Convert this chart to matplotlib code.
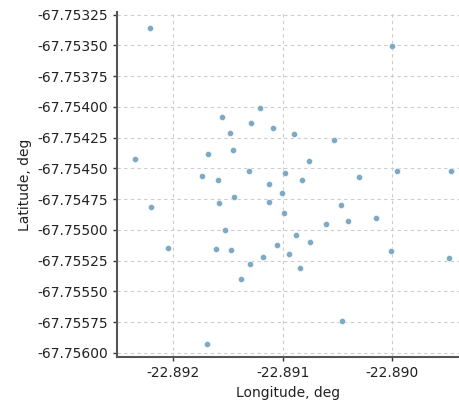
import matplotlib
matplotlib.use("Agg")
import matplotlib.pyplot as plt

# positions
lon = [-22.892213, -22.889997, -22.891206, -22.891554, -22.891288, -22.891087,
       -22.890895, -22.891481, -22.890528, -22.891453, -22.891682, -22.892351,
       -22.890757, -22.891307, -22.891737, -22.890977, -22.889951, -22.889457,
       -22.890299, -22.891591, -22.890821, -22.891124, -22.891005, -22.891444,
       -22.891581, -22.891124, -22.892204, -22.890986, -22.890464, -22.890602,
       -22.890400, -22.890144, -22.891527, -22.890876, -22.890748, -22.891050,
       -22.892049, -22.891609, -22.891472, -22.890940, -22.891179, -22.891298,
       -22.890840, -22.890006, -22.889475, -22.891380, -22.890455, -22.891691]
lat = [-67.753363, -67.753508, -67.754008, -67.754081, -67.754129, -67.754169,
       -67.754218, -67.754210, -67.754266, -67.754355, -67.754387, -67.754427,
       -67.754444, -67.754524, -67.754565, -67.754540, -67.754524, -67.754524,
       -67.754573, -67.754597, -67.754597, -67.754629, -67.754702, -67.754734,
       -67.754782, -67.754774, -67.754815, -67.754863, -67.754798, -67.754952,
       -67.754927, -67.754903, -67.755000, -67.755040, -67.755097, -67.755121,
       -67.755145, -67.755153, -67.755161, -67.755194, -67.755218, -67.755282,
       -67.755307, -67.755169, -67.755226, -67.755403, -67.755742, -67.755928]

yticks = [-67.75325, -67.75350, -67.75375, -67.75400, -67.75425, -67.75450,
          -67.75475, -67.75500, -67.75525, -67.75550, -67.75575, -67.75600]
xticks = [-22.892, -22.891, -22.890]

fig = plt.figure(figsize=(4.59, 4.03), dpi=100)
ax = fig.add_axes([0.255, 0.114, 0.745, 0.856])

ax.scatter(lon, lat, s=20, color='#7ea9c3', edgecolor='white', linewidth=0.4, zorder=3)

ax.set_xlim(-22.892516, -22.889384)
ax.set_ylim(-67.756035, -67.75323)
ax.set_xticks(xticks)
ax.set_xticklabels(['%.3f' % v for v in xticks])
ax.set_yticks(yticks)
ax.set_yticklabels(['%.5f' % v for v in yticks])

ax.grid(True, linestyle=(0, (3, 3)), color='#cccccc', linewidth=0.8)
ax.set_axisbelow(True)
for s in ['top', 'right']:
    ax.spines[s].set_visible(False)
for s in ['left', 'bottom']:
    ax.spines[s].set_color('#555555')
    ax.spines[s].set_linewidth(1.5)
ax.tick_params(colors='#333333', labelsize=10, length=3, width=1, labelcolor='#222222')

ax.set_xlabel('Longitude, deg', fontsize=10, color='#222222')
ax.set_ylabel('Latitude, deg', fontsize=10, color='#222222')

plt.savefig("out.png", dpi=100)
